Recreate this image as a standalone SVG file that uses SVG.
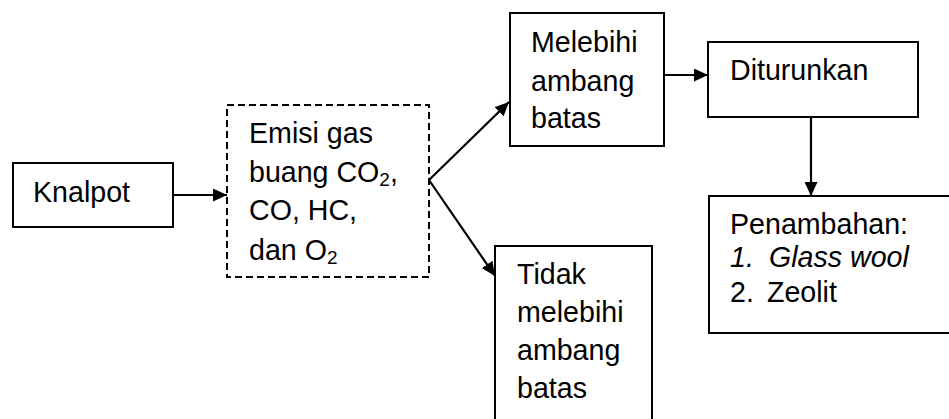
<svg xmlns="http://www.w3.org/2000/svg" width="949" height="419" viewBox="0 0 949 419">
<defs>
<style>
.box{fill:#fff;stroke:#000;stroke-width:2}
.dash{fill:#fff;stroke:#000;stroke-width:2;stroke-dasharray:7,4}
.t{font-family:"Liberation Sans",Arial,sans-serif;font-size:28.6px;fill:#000}
.sub{font-size:19px}
.c{stroke:#000;stroke-width:2.2;fill:none;marker-end:url(#ah)}
</style>
<marker id="ah" markerWidth="14" markerHeight="13" refX="14" refY="6.5" orient="auto" markerUnits="userSpaceOnUse" viewBox="0 0 14 13">
<path d="M0,0 L14,6.5 L0,13 z" fill="#000"/>
</marker>
</defs>
<rect width="949" height="419" fill="#fff"/>
<g id="connectors">
<line class="c" x1="173" y1="195" x2="227" y2="195"/>
<line class="c" x1="429" y1="180" x2="509" y2="102"/>
<line class="c" x1="429" y1="180" x2="495" y2="276"/>
<line class="c" x1="664" y1="75" x2="708" y2="75"/>
<line class="c" x1="811" y1="117" x2="811" y2="196"/>
</g>
<g id="knalpot">
<rect class="box" x="13" y="163" width="160" height="64"/>
<text class="t" x="33" y="202">Knalpot</text>
</g>
<g id="emisi">
<rect class="dash" x="227" y="105" width="202" height="172"/>
<text class="t" x="249" y="143">Emisi gas</text>
<text class="t" x="249" y="182">buang CO<tspan class="sub" dy="4">2</tspan><tspan dy="-4">,</tspan></text>
<text class="t" x="249" y="220">CO, HC,</text>
<text class="t" x="249" y="260">dan O<tspan class="sub" dy="4">2</tspan></text>
</g>
<g id="melebihi">
<rect class="box" x="510" y="13" width="154" height="133"/>
<text class="t" x="531" y="52">Melebihi</text>
<text class="t" x="531" y="91">ambang</text>
<text class="t" x="531" y="128">batas</text>
</g>
<g id="tidak">
<rect class="box" x="495" y="246" width="157" height="190"/>
<text class="t" x="517" y="284">Tidak</text>
<text class="t" x="517" y="322">melebihi</text>
<text class="t" x="517" y="360">ambang</text>
<text class="t" x="517" y="398">batas</text>
</g>
<g id="diturunkan">
<rect class="box" x="708" y="42" width="210" height="75"/>
<text class="t" x="730" y="80">Diturunkan</text>
</g>
<g id="penambahan">
<rect class="box" x="709" y="196" width="250" height="137"/>
<text class="t" x="730" y="234">Penambahan:</text>
<text class="t" x="730" y="267" font-style="italic">1.</text>
<text class="t" x="769" y="267" font-style="italic">Glass wool</text>
<text class="t" x="730" y="302">2.</text>
<text class="t" x="767" y="302">Zeolit</text>
</g>
</svg>
